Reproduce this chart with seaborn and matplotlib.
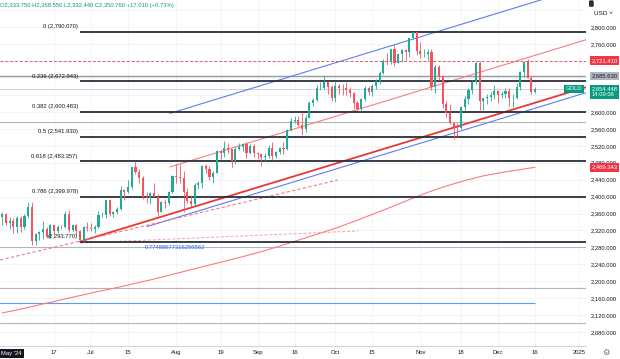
import numpy as np
import pandas as pd
import matplotlib
matplotlib.use("Agg")
import matplotlib.pyplot as plt
import matplotlib.transforms as mtrans
import seaborn as sns

sns.set_theme(style="white")
plt.rcParams["font.family"] = ["Liberation Sans", "DejaVu Sans"]

# daily bars, 2024-05-28 .. 2024-12-16 (weekdays)
dates = pd.bdate_range("2024-05-28", "2024-12-16")

opens = [
    2351, 2360, 2338, 2343,
    2327, 2350, 2327, 2355, 2375,
    2294, 2311, 2316, 2324, 2304,
    2333, 2319, 2329, 2328, 2360,
    2322, 2334, 2319, 2298, 2327,
    2326, 2323, 2329, 2356, 2356,
    2392, 2358, 2364, 2371, 2415,
    2411, 2422, 2469, 2459, 2445,
    2400, 2396, 2409, 2398, 2364,
    2387, 2384, 2410,
    2448, 2446,
    2443, 2410, 2390, 2382, 2427,
    2431, 2472, 2465, 2447, 2456,
    2507, 2504, 2514, 2512, 2484,
    2512, 2518, 2524, 2504, 2520,
    2503, 2500, 2493, 2495, 2516,
    2497, 2506, 2516, 2512, 2558,
    2578, 2582, 2569, 2559, 2586,
    2622, 2628, 2657, 2657, 2672,
    2658,
    2634, 2662, 2657, 2656,
    2653, 2644, 2622, 2608, 2631,
    2657, 2648, 2662, 2674, 2693,
    2721, 2720, 2748, 2715, 2736,
    2747, 2743, 2774, 2788,
    2744,
    2736, 2736, 2742, 2659, 2706,
    2685, 2618, 2598, 2573, 2565,
    2563, 2611, 2631, 2651, 2670,
    2715, 2625, 2632, 2636, 2640,
    2650, 2640, 2643, 2650, 2632,
    2633, 2660, 2694, 2718, 2680,
    2648,
]
highs = [
    2364, 2362, 2351, 2349,
    2355, 2354, 2358, 2388, 2387,
    2314, 2318, 2342, 2327, 2335,
    2334, 2333, 2333, 2365, 2368,
    2336, 2336, 2320, 2331, 2340,
    2337, 2334, 2365, 2363, 2393,
    2393, 2366, 2376, 2424, 2418,
    2440, 2469, 2483, 2466, 2449,
    2412, 2412, 2431, 2406, 2390,
    2395, 2413, 2451,
    2477, 2477,
    2461, 2420, 2403, 2433, 2437,
    2474, 2477, 2472, 2461, 2509,
    2510, 2531, 2526, 2513, 2517,
    2527, 2526, 2528, 2524, 2525,
    2505, 2503, 2504, 2523, 2529,
    2508, 2518, 2529, 2560, 2586,
    2590, 2590, 2601, 2593, 2625,
    2634, 2664, 2670, 2685, 2674,
    2665,
    2673, 2667, 2666, 2670,
    2660, 2648, 2626, 2634, 2662,
    2661, 2667, 2677, 2696, 2725,
    2740, 2749, 2759, 2738, 2749,
    2750, 2774, 2790, 2790.07,
    2765,
    2750, 2749, 2748, 2711, 2711,
    2685, 2627, 2618, 2575, 2575,
    2615, 2639, 2656, 2675, 2721.41,
    2721, 2633, 2643, 2647, 2665,
    2652, 2650, 2657, 2656, 2643,
    2668, 2697, 2721, 2726, 2686,
    2659,
]
lows = [
    2334, 2334, 2324, 2314,
    2314, 2316, 2323, 2350, 2286,
    2286, 2298, 2300, 2301, 2302,
    2310, 2314, 2324, 2326, 2316,
    2317, 2310, 2294, 2293.77, 2319,
    2318, 2315, 2325, 2351, 2349,
    2353, 2351, 2358, 2368, 2393,
    2408, 2418, 2454, 2431, 2394,
    2384, 2383, 2398, 2353, 2364,
    2374, 2381, 2409,
    2431, 2432,
    2364, 2385, 2375, 2378, 2419,
    2421, 2456, 2440, 2431, 2455,
    2489, 2493, 2502, 2470, 2478,
    2510, 2507, 2492, 2500, 2493,
    2490, 2472, 2483, 2491, 2486,
    2492, 2500, 2500, 2510, 2555,
    2574, 2566, 2546, 2553, 2585,
    2615, 2625, 2651, 2655, 2643,
    2625,
    2624, 2642, 2640, 2640,
    2636, 2606, 2604, 2603, 2627,
    2640, 2637, 2655, 2666, 2691,
    2711, 2714, 2708, 2715, 2718,
    2723, 2730, 2772, 2734,
    2728,
    2729, 2724, 2652, 2644, 2675,
    2610, 2589, 2572, 2537, 2541,
    2560, 2605, 2618, 2643, 2666,
    2605, 2605, 2620, 2627, 2630,
    2622, 2633, 2632, 2614, 2613,
    2630, 2653, 2682, 2680, 2643,
    2645,
]
closes = [
    2360, 2338, 2343, 2327,
    2350, 2327, 2355, 2375, 2294,
    2311, 2316, 2324, 2304, 2333,
    2319, 2329, 2328, 2360, 2322,
    2334, 2319, 2298, 2327, 2326,
    2323, 2329, 2356, 2356, 2392,
    2358, 2364, 2371, 2415, 2411,
    2422, 2469, 2459, 2445, 2400,
    2396, 2409, 2398, 2364, 2387,
    2384, 2410, 2448,
    2446, 2443,
    2410, 2390, 2382, 2427, 2431,
    2472, 2465, 2447, 2456, 2507,
    2504, 2514, 2512, 2484, 2512,
    2518, 2524, 2504, 2520, 2503,
    2500, 2493, 2495, 2516, 2497,
    2506, 2516, 2512, 2558, 2578,
    2582, 2569, 2559, 2586, 2622,
    2628, 2657, 2657, 2672, 2658,
    2634,
    2662, 2657, 2656, 2653,
    2644, 2622, 2608, 2631, 2657,
    2648, 2662, 2674, 2693, 2721,
    2720, 2748, 2715, 2736, 2747,
    2743, 2774, 2788, 2744,
    2736,
    2736, 2742, 2659, 2706, 2685,
    2618, 2598, 2573, 2565, 2563,
    2611, 2631, 2651, 2670, 2715,
    2625, 2632, 2636, 2640, 2650,
    2640, 2643, 2650, 2632, 2633,
    2660, 2694, 2718, 2680, 2648,
    2654.448,
]

# 200-day moving average, read every 5 bars
ma_idx = list(range(0, 145, 5)) + [144]
ma_vals = [2125, 2134, 2144, 2154, 2164, 2174, 2183, 2193, 2203, 2214,
           2225, 2236, 2247, 2258, 2270, 2283, 2297, 2311, 2325, 2341,
           2358, 2375, 2393, 2410, 2425, 2438, 2449, 2457, 2464, 2469.343]

fib_ratios = ["0", "0.236", "0.382", "0.5", "0.618", "0.786", ""]
fib_levels = [2790.070, 2672.943, 2600.483, 2541.930, 2483.357, 2399.978, 2293.770]

gray_levels = [2577, 2281.6, 2183, 2102]
price_ticks = [2080, 2120, 2160, 2200, 2240, 2280, 2320, 2360, 2400, 2440,
               2480, 2520, 2560, 2600, 2760, 2800]

date_ticks = ["2024-06-17", "2024-07-01", "2024-07-15", "2024-08-01", "2024-08-19",
              "2024-09-02", "2024-09-16", "2024-10-01", "2024-10-15", "2024-11-01",
              "2024-11-18", "2024-12-02", "2024-12-16", "2025-01-01"]
date_labels = ["17", "Jul", "15", "Aug", "19", "Sep", "16", "Oct", "15", "Nov",
               "18", "Dec", "16", "2025"]

UP = "#22ab94"
DOWN = "#f7525f"
TXT = "#131722"
FS = 4.2

o = np.array(opens, float)
h = np.array(highs, float)
l = np.array(lows, float)
c = np.array(closes, float)
x = np.arange(len(dates))
all_days = pd.bdate_range("2024-05-28", "2025-01-10")
tick_pos = [all_days.get_loc(pd.Timestamp(d)) for d in date_ticks]

fig = plt.figure(figsize=(6.2, 3.59), dpi=100)
ax = fig.add_axes([0, 13 / 359, 586 / 620, 346 / 359])
ax.set_xlim(-0.62, 157.76)
ax.set_ylim(2046.8, 2864.8)

for t in tick_pos:
    ax.axvline(t, color="#f2f3f5", lw=0.6, zorder=0)
for p in price_ticks + [2640, 2680, 2720, 2840]:
    ax.axhline(p, color="#f2f3f5", lw=0.6, zorder=0)

# moving average
sns.lineplot(x=ma_idx, y=ma_vals, ax=ax, color="#f77c80", lw=0.8, zorder=2)

# horizontal reference lines
for g in gray_levels:
    ax.axhline(g, color="#b2b5be", lw=0.8, zorder=1)
ax.axhline(2685.63, color="#9598a1", lw=1.0, zorder=1)
ax.axhline(2654.448, color="#c8cbd2", lw=0.6, zorder=1)
ax.axhline(2721.41, color="#f7525f", lw=0.7, ls=(0, (3, 2)), zorder=1)
ax.hlines(2147.8, -1, 144, color="#5b9cf6", lw=0.8, zorder=1)

# channel / trend lines
ax.plot([45.3, 160], [2596.7, 2903.5], color="#5b7ff0", lw=0.8, zorder=3)
ax.plot([45.3, 160], [2470.0, 2776.8], color="#f77c80", lw=0.8, zorder=3)
ax.plot([21, 160], [2293.77, 2664.6], color="#e53935", lw=1.3, zorder=3)
ax.plot([39.1, 160], [2329.0, 2651.6], color="#5b7ff0", lw=0.8, zorder=3)
ax.plot([-0.6, 90.7], [2250, 2439.2], color="#f77c80", lw=0.8, ls=(0, (3, 2)), zorder=3)
ax.plot([21, 96.1], [2290.3, 2318.7], color="#f7a0a5", lw=0.7, ls=(0, (3, 2)), zorder=3)

# fib levels
ax.hlines(fib_levels, 21, 160, color="#2a2e39", lw=1.3, zorder=3)
for r, lv in zip(fib_ratios, fib_levels):
    lab = f"{r} ({lv:,.3f})" if r else f"({lv:,.3f})"
    ax.text(20.4, lv + 6, lab, ha="right", va="bottom", fontsize=FS, color=TXT, zorder=5)

ax.text(38.5, 2276, "0.77488677316256562", fontsize=FS, color="#2962ff", zorder=5)

# candles
cols = np.where(c >= o, UP, DOWN)
ax.vlines(x, l, h, colors=cols, lw=0.6, zorder=4)
body = np.maximum(np.abs(c - o), 0.8)
ax.bar(x, body, bottom=np.minimum(o, c), width=0.55, color=cols, linewidth=0, zorder=4)

# axes cosmetics
for s in ["top", "left", "right"]:
    ax.spines[s].set_visible(False)
ax.spines["bottom"].set_color("#d1d4dc")
ax.spines["bottom"].set_linewidth(0.8)
ax.set_xticks(tick_pos)
ax.set_xticklabels(date_labels, fontsize=FS, color=TXT)
ax.tick_params(axis="x", length=0, pad=3)
ax.yaxis.tick_right()
ax.set_yticks(price_ticks)
ax.set_yticklabels([f"{p:,.3f}" for p in price_ticks], fontsize=FS, color=TXT)
ax.tick_params(axis="y", length=0, pad=3.5)
ax.set_xlabel("")
ax.set_ylabel("")

# price-scale labels
tr = mtrans.blended_transform_factory(ax.transAxes, ax.transData)
box = dict(boxstyle="square,pad=0.3", ec="none")
ax.text(1.009, 2721.41, "2,721.410", transform=tr, fontsize=FS, color="white", va="center",
        bbox={**box, "fc": "#f23645"}, clip_on=False, zorder=6)
ax.text(1.009, 2685.63, "2,685.630", transform=tr, fontsize=FS, color=TXT, va="center",
        bbox={**box, "fc": "#b2b5be"}, clip_on=False, zorder=6)
ax.text(1.009, 2469.343, "2,469.343", transform=tr, fontsize=FS, color="white", va="center",
        bbox={**box, "fc": "#f23645"}, clip_on=False, zorder=6)
ax.text(1.009, 2660, "2,654.448\n14:09:06", transform=tr, fontsize=FS, color="white", va="top",
        linespacing=1.15, bbox={**box, "fc": "#089981"}, clip_on=False, zorder=6)
ax.text(0.966, 2654.448, "GOLD", transform=tr, fontsize=FS, color="white", va="center",
        bbox={**box, "fc": "#089981"}, clip_on=False, zorder=6)

# header / misc
fig.text(0.0, 0.984, "O2,333.750 H2,358.550 L2,332.440 C2,350.760 +17.010 (+0.73%)",
         fontsize=FS, color="#089981", va="center")
fig.text(0.958, 0.962, "USD \u02c5", fontsize=4.6, color=TXT, va="center")
fig.text(0.952, 0.99, "  ", fontsize=3, va="center",
         bbox=dict(boxstyle="round,pad=0.3", fc="#2a2e39", ec="none"))
fig.text(0.002, 0.016, "May '24", fontsize=FS, color="white", va="center",
         bbox=dict(boxstyle="square,pad=0.35", fc="#131722", ec="none"))
fig.text(0.978, 0.016, "\u2699", fontsize=6, color="#6a6d78", va="center", ha="center")

fig.savefig("out.png", dpi=100)
